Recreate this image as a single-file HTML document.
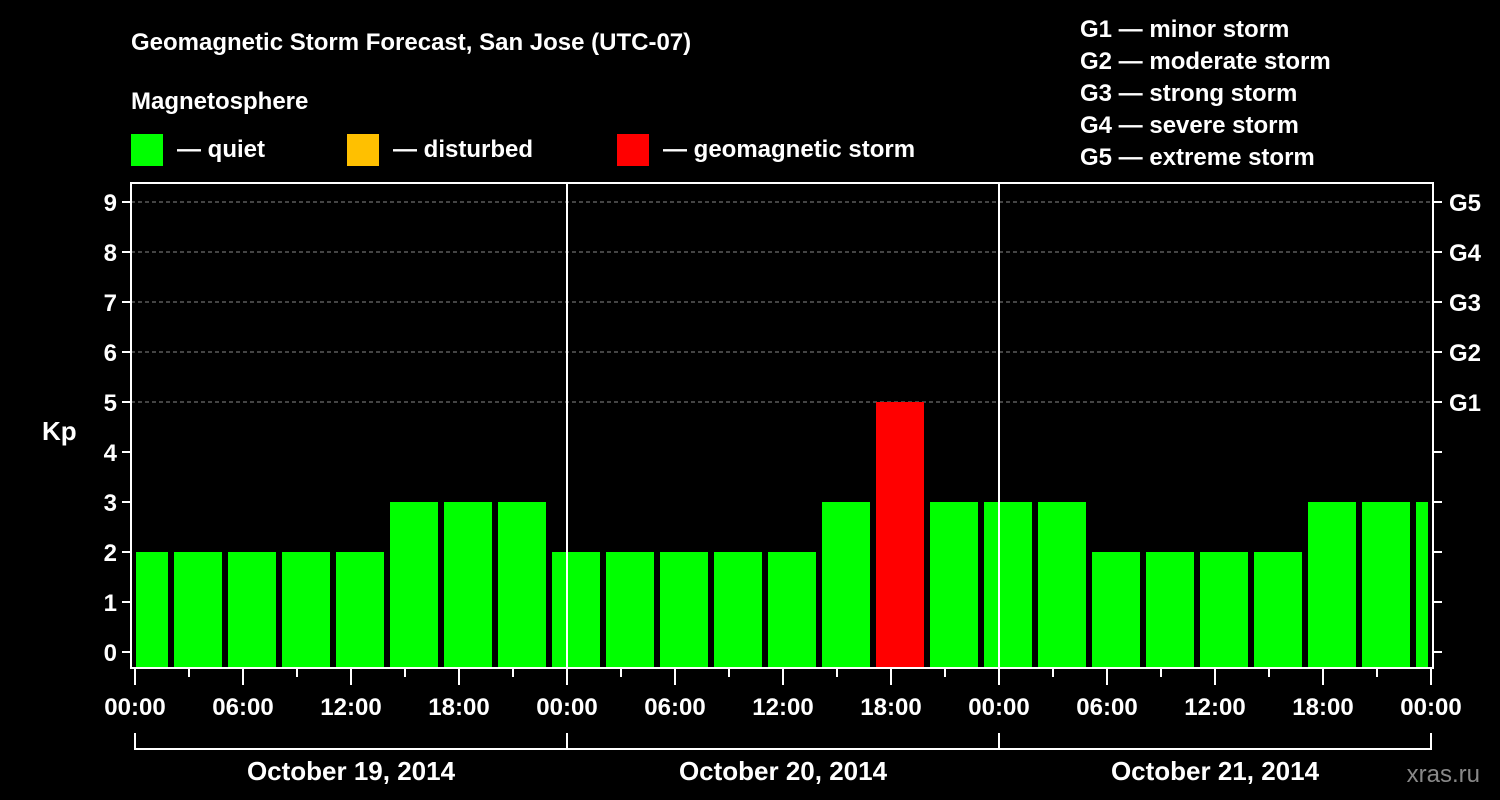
<!DOCTYPE html>
<html><head><meta charset="utf-8"><style>
body{margin:0;background:#000;width:1500px;height:800px;overflow:hidden}
svg{display:block;font-family:"Liberation Sans",sans-serif;font-weight:bold}
</style></head><body>
<svg id="c" width="1500" height="800">
<text x="131" y="50" fill="#fff" font-size="24">Geomagnetic Storm Forecast, San Jose (UTC-07)</text>
<text x="131" y="109" fill="#fff" font-size="24">Magnetosphere</text>
<rect x="131" y="134" width="32" height="32" fill="#00ff00"/>
<text x="177" y="157" fill="#fff" font-size="24">— quiet</text>
<rect x="347" y="134" width="32" height="32" fill="#ffc000"/>
<text x="393" y="157" fill="#fff" font-size="24">— disturbed</text>
<rect x="617" y="134" width="32" height="32" fill="#ff0000"/>
<text x="663" y="157" fill="#fff" font-size="24">— geomagnetic storm</text>
<g fill="#fff" font-size="24">
<text x="1080" y="37">G1 — minor storm</text>
<text x="1080" y="69">G2 — moderate storm</text>
<text x="1080" y="101">G3 — strong storm</text>
<text x="1080" y="133">G4 — severe storm</text>
<text x="1080" y="165">G5 — extreme storm</text>
</g>
<text x="42" y="440" fill="#fff" font-size="26">Kp</text>
<text x="1480" y="782" fill="#888" font-size="24" font-weight="normal" text-anchor="end">xras.ru</text>
<defs><clipPath id="pc"><rect x="136" y="183" width="1292" height="485"/></clipPath></defs>
<g id="grid"></g>
<g id="bars" clip-path="url(#pc)"></g>
<g id="axes"></g>
</svg>
<script>
const kpValues=[2,2,2,2,2,3,3,3,2,2,2,2,2,3,5,3,3,3,2,2,2,2,3,3,3];
const yTicks=[0,1,2,3,4,5,6,7,8,9];
const gLabels=["G1","G2","G3","G4","G5"];
const xTickLabels=["00:00","06:00","12:00","18:00","00:00","06:00","12:00","18:00","00:00","06:00","12:00","18:00","00:00"];
const dayLabels=["October 19, 2014","October 20, 2014","October 21, 2014"];
const NS="http://www.w3.org/2000/svg";
const x0=135,pxHour=18,yBase=652,pxKp=50,plotL=131,plotR=1433,plotT=183,plotB=668;
const xs=h=>x0+h*pxHour, ys=v=>yBase-v*pxKp;
function mk(t,a,p){const e=document.createElementNS(NS,t);for(const k in a)e.setAttribute(k,a[k]);p.appendChild(e);return e;}
const grid=document.getElementById('grid'),bars=document.getElementById('bars'),axes=document.getElementById('axes');
yTicks.forEach(v=>{if(v>=5){const l=mk('line',{x1:plotL,x2:plotR,y1:ys(v),y2:ys(v),stroke:'#888','stroke-dasharray':'4 3','stroke-width':1},grid);

}});
kpValues.forEach((v,i)=>{const c=xs(0.5+3*i);const col=v>=5?'#ff0000':(v>=4?'#ffc000':'#00ff00');
const r=mk('rect',{x:c-24,y:ys(v),width:48,height:plotB-ys(v),fill:col},bars);

});
const fr=mk('rect',{x:plotL,y:plotT,width:plotR-plotL,height:plotB-plotT,fill:'none',stroke:'#fff','stroke-width':2},axes);


[1,2].forEach(d=>{const l=mk('line',{x1:xs(24*d),x2:xs(24*d),y1:plotT,y2:plotB,stroke:'#fff','stroke-width':2},axes);

});
yTicks.forEach(v=>{mk('line',{x1:plotL-9,x2:plotL,y1:ys(v),y2:ys(v),stroke:'#fff','stroke-width':2},axes);
mk('line',{x1:plotR,x2:plotR+9,y1:ys(v),y2:ys(v),stroke:'#fff','stroke-width':2},axes);
const t=mk('text',{x:plotL-14,y:ys(v)+9,fill:'#fff','font-size':24,'text-anchor':'end'},axes);t.textContent=v;

});
gLabels.forEach((g,i)=>{const t=mk('text',{x:plotR+16,y:ys(5+i)+9,fill:'#fff','font-size':24},axes);t.textContent=g;

});
for(let h=0;h<=72;h+=3){const maj=h%6==0;mk('line',{x1:xs(h),x2:xs(h),y1:plotB,y2:plotB+(maj?17:9),stroke:'#fff','stroke-width':2},axes);}
xTickLabels.forEach((s,i)=>{const t=mk('text',{x:xs(6*i),y:715,fill:'#fff','font-size':24,'text-anchor':'middle'},axes);t.textContent=s;

});
mk('path',{d:`M${xs(0)} 733V749H${xs(72)}V733M${xs(24)} 733V749M${xs(48)} 733V749`,fill:'none',stroke:'#fff','stroke-width':2},axes);
dayLabels.forEach((s,i)=>{const t=mk('text',{x:xs(24*i+12),y:780,fill:'#fff','font-size':26,'text-anchor':'middle'},axes);t.textContent=s;

});
</script>
</body></html>
